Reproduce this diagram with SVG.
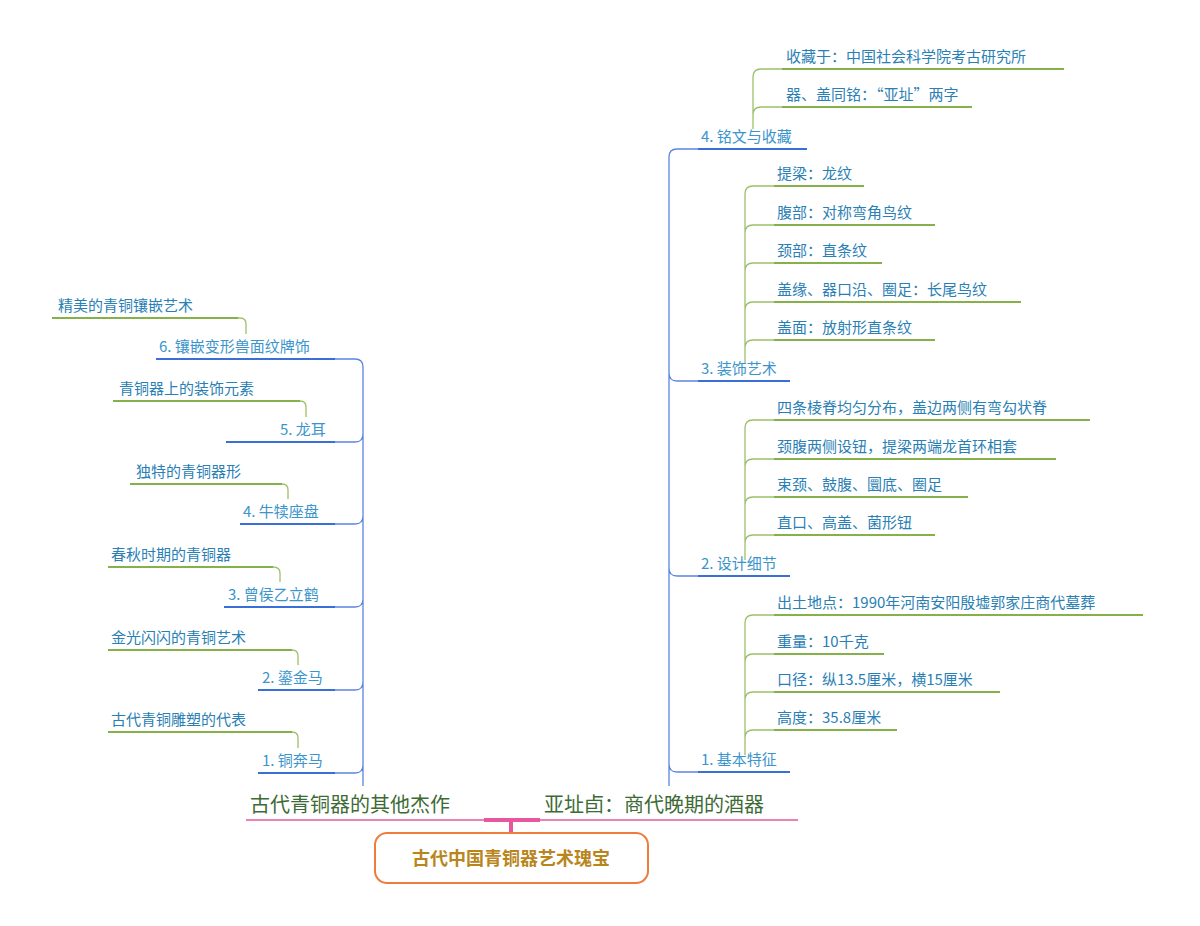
<svg xmlns="http://www.w3.org/2000/svg" width="1200" height="926" viewBox="0 0 1200 926">
<style>
text{font-family:"Noto Sans CJK SC","Noto Sans",sans-serif}
.t1{font-size:20px;fill:#3d6b35}
.t2{font-size:15px;fill:#3b95cc}
.t3{font-size:15px;fill:#2a7fb5}
.u2{stroke:#3a6fd8;stroke-width:2;fill:none}
.c2{stroke:#5b84e0;stroke-width:1.3;fill:none}
.u3{stroke:#86b04a;stroke-width:2;fill:none}
.c3{stroke:#9cc06a;stroke-width:1.3;fill:none}
.pk{stroke:#e8579e;fill:none}
</style>
<rect width="1200" height="926" fill="#fff"/>
<g id="connectors">
<path class="pk" stroke-width="4" d="M484,820 H540 M511,820 V833"/>
<path class="pk" stroke-width="1.5" d="M246,820 H484 M540,820 H798"/>
<path class="c2" d="M363,786 V367 Q363,359 355,359 H335 M363,434 Q363,442 355,442 H335 M363,516 Q363,524 355,524 H335 M363,599 Q363,607 355,607 H335 M363,682 Q363,690 355,690 H335 M363,765 Q363,773 355,773 H335"/>
<path class="c3" d="M238,318 H240 Q246,318 246,324 V334 M300,401 Q306,401 306,407 V417 M282,484 Q288,484 288,490 V499 M273,567 Q280,567 280,573 V582 M292,650 Q298,650 298,656 V665 M292,732 Q298,732 298,738 V748"/>
<path class="c2" d="M669,786 V157 Q669,149 677,149 H698 M669,373 Q669,381 677,381 H698 M669,568 Q669,576 677,576 H698 M669,764 Q669,772 677,772 H698"/>
<path class="c3" d="M753,129 V77 Q753,69 761,69 H782 M753,115 Q753,107 761,107 H782"/>
<path class="c3" d="M745,364 V194 Q745,186 753,186 H774 M745,233 Q745,225 753,225 H774 M745,271 Q745,263 753,263 H774 M745,310 Q745,302 753,302 H774 M745,348 Q745,340 753,340 H774"/>
<path class="c3" d="M745,560 V428 Q745,420 753,420 H774 M745,467 Q745,459 753,459 H774 M745,505 Q745,497 753,497 H774 M745,543 Q745,535 753,535 H774"/>
<path class="c3" d="M745,755 V623 Q745,615 753,615 H774 M745,662 Q745,654 753,654 H774 M745,700 Q745,692 753,692 H774 M745,738 Q745,730 753,730 H774"/>
</g>
<g id="root"><rect x="375" y="833" width="273" height="50" rx="12" fill="#fff" stroke="#ef7c3a" stroke-width="2"/><text x="511" y="865" text-anchor="middle" font-size="18" font-weight="bold" fill="#b8861c">古代中国青铜器艺术瑰宝</text></g>
<g id="L"><text class="t1" x="250" y="812">古代青铜器的其他杰作</text></g>
<g id="R"><text class="t1" x="544" y="812">亚址卣：商代晚期的酒器</text></g>
<g id="L6"><path class="u2" d="M156,359 H335"/><text class="t2" x="159" y="352">6. 镶嵌变形兽面纹牌饰</text></g>
<g id="L6a"><path class="u3" d="M52,318 H238"/><text class="t3" x="58" y="311">精美的青铜镶嵌艺术</text></g>
<g id="L5"><path class="u2" d="M226,442 H335"/><text class="t2" x="280" y="435">5. 龙耳</text></g>
<g id="L5a"><path class="u3" d="M113,401 H300"/><text class="t3" x="119" y="394">青铜器上的装饰元素</text></g>
<g id="L4"><path class="u2" d="M240,524 H335"/><text class="t2" x="243" y="517">4. 牛犊座盘</text></g>
<g id="L4a"><path class="u3" d="M130,484 H282"/><text class="t3" x="136" y="477">独特的青铜器形</text></g>
<g id="L3"><path class="u2" d="M224,607 H335"/><text class="t2" x="228" y="600">3. 曾侯乙立鹤</text></g>
<g id="L3a"><path class="u3" d="M108,567 H273"/><text class="t3" x="111" y="560">春秋时期的青铜器</text></g>
<g id="L2"><path class="u2" d="M258,690 H335"/><text class="t2" x="262" y="683">2. 鎏金马</text></g>
<g id="L2a"><path class="u3" d="M108,650 H292"/><text class="t3" x="111" y="643">金光闪闪的青铜艺术</text></g>
<g id="L1"><path class="u2" d="M258,773 H335"/><text class="t2" x="262" y="766">1. 铜奔马</text></g>
<g id="L1a"><path class="u3" d="M108,732 H292"/><text class="t3" x="111" y="725">古代青铜雕塑的代表</text></g>
<g id="R4"><path class="u2" d="M698,149 H807"/><text class="t2" x="701" y="142">4. 铭文与收藏</text></g>
<g id="R4a"><path class="u3" d="M782,69 H1064"/><text class="t3" x="786" y="62">收藏于：中国社会科学院考古研究所</text></g>
<g id="R4b"><path class="u3" d="M782,107 H972"/><text class="t3" x="786" y="100">器、盖同铭：“亚址”两字</text></g>
<g id="R3"><path class="u2" d="M698,381 H790"/><text class="t2" x="701" y="374">3. 装饰艺术</text></g>
<g id="R3a"><path class="u3" d="M774,186 H864"/><text class="t3" x="777" y="179">提梁：龙纹</text></g>
<g id="R3b"><path class="u3" d="M774,225 H935"/><text class="t3" x="777" y="218">腹部：对称弯角鸟纹</text></g>
<g id="R3c"><path class="u3" d="M774,263 H882"/><text class="t3" x="777" y="256">颈部：直条纹</text></g>
<g id="R3d"><path class="u3" d="M774,302 H1021"/><text class="t3" x="777" y="295">盖缘、器口沿、圈足：长尾鸟纹</text></g>
<g id="R3e"><path class="u3" d="M774,340 H935"/><text class="t3" x="777" y="333">盖面：放射形直条纹</text></g>
<g id="R2"><path class="u2" d="M698,576 H790"/><text class="t2" x="701" y="569">2. 设计细节</text></g>
<g id="R2a"><path class="u3" d="M774,420 H1090"/><text class="t3" x="777" y="413">四条棱脊均匀分布，盖边两侧有弯勾状脊</text></g>
<g id="R2b"><path class="u3" d="M774,459 H1056"/><text class="t3" x="777" y="452">颈腹两侧设钮，提梁两端龙首环相套</text></g>
<g id="R2c"><path class="u3" d="M774,497 H968"/><text class="t3" x="777" y="490">束颈、鼓腹、圜底、圈足</text></g>
<g id="R2d"><path class="u3" d="M774,535 H935"/><text class="t3" x="777" y="528">直口、高盖、菌形钮</text></g>
<g id="R1"><path class="u2" d="M698,772 H790"/><text class="t2" x="701" y="765">1. 基本特征</text></g>
<g id="R1a"><path class="u3" d="M774,615 H1143"/><text class="t3" x="777" y="608">出土地点：1990年河南安阳殷墟郭家庄商代墓葬</text></g>
<g id="R1b"><path class="u3" d="M774,654 H884"/><text class="t3" x="777" y="647">重量：10千克</text></g>
<g id="R1c"><path class="u3" d="M774,692 H1000"/><text class="t3" x="777" y="685">口径：纵13.5厘米，横15厘米</text></g>
<g id="R1d"><path class="u3" d="M774,730 H897"/><text class="t3" x="777" y="723">高度：35.8厘米</text></g>
</svg>
